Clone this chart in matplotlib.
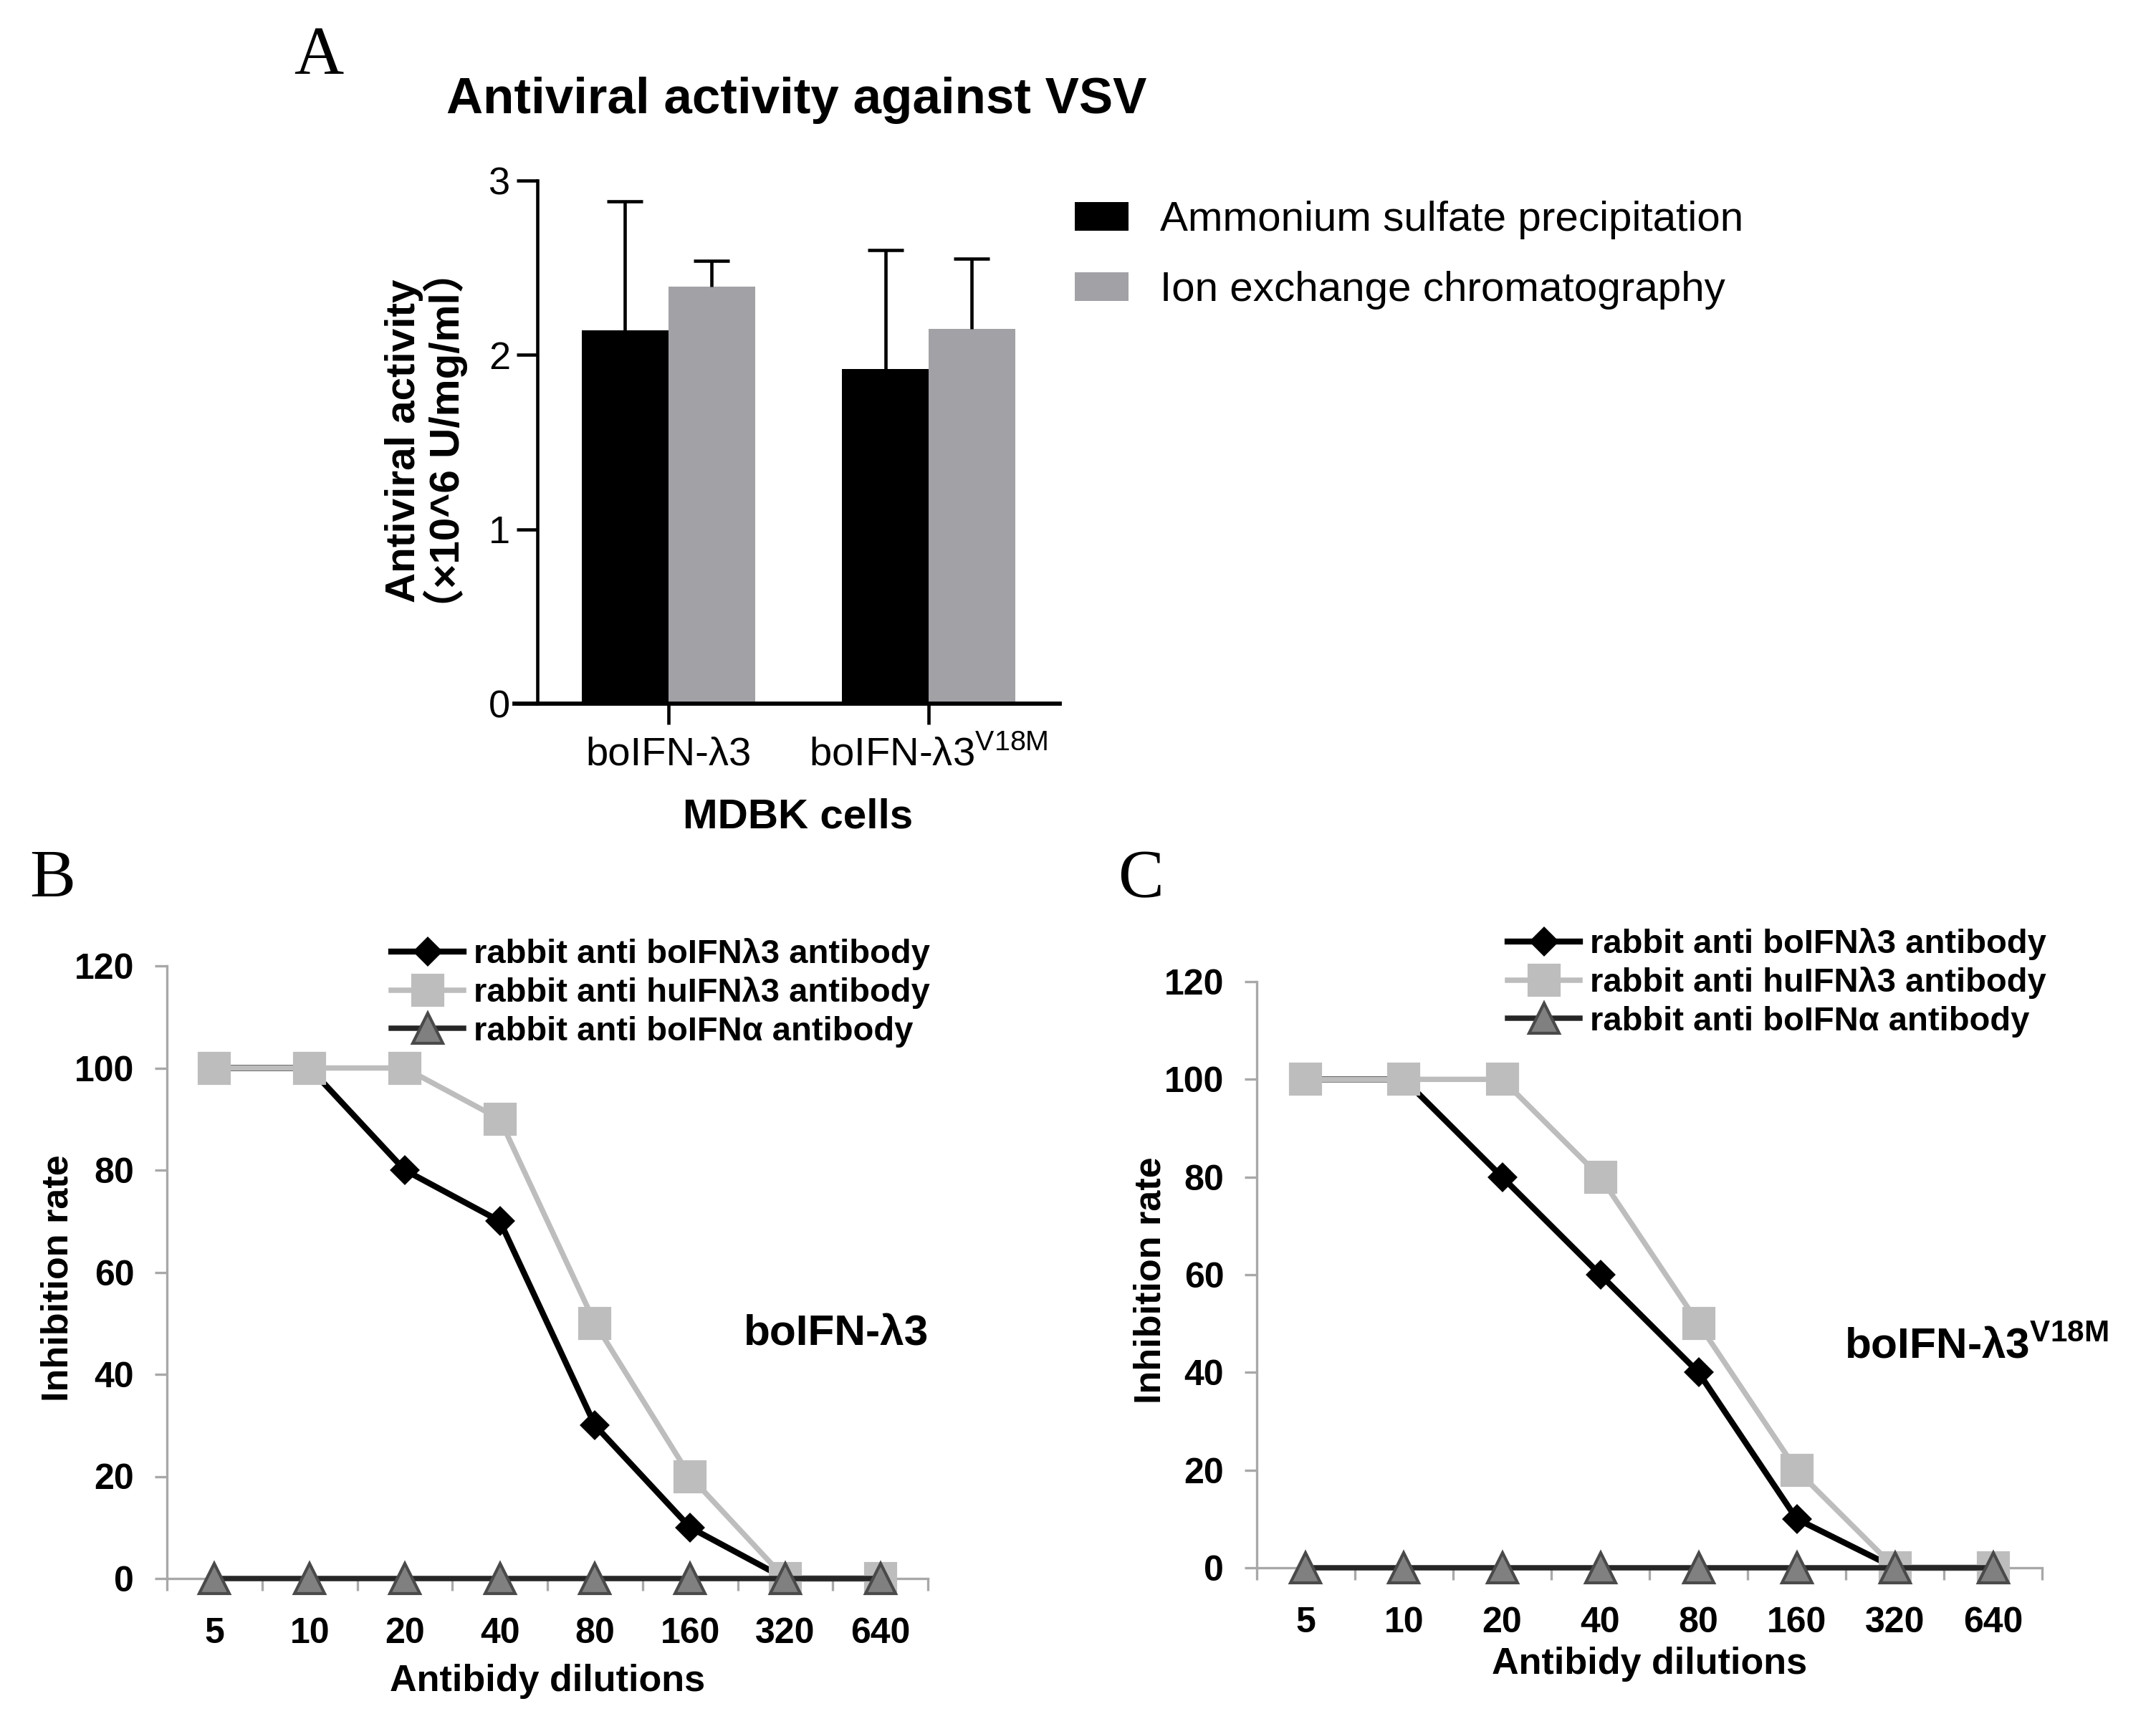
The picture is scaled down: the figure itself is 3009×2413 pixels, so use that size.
import numpy as np
import matplotlib
matplotlib.use("Agg")
import matplotlib.pyplot as plt
from matplotlib.patches import Patch

plt.rcParams['font.family'] = ['Liberation Sans', 'Noto Sans CJK SC', 'DejaVu Sans']
plt.rcParams['mathtext.fontset'] = 'custom'
plt.rcParams['mathtext.rm'] = 'Liberation Sans'
plt.rcParams['mathtext.bf'] = 'Liberation Sans:bold'

# ---- panel A data ----
groups_a = ['boIFN-λ3', 'boIFN-λ3$^{\\mathregular{V18M}}$']
ammonium_mean = [2.14, 1.92]
ammonium_sd = [0.74, 0.68]
ionex_mean = [2.39, 2.15]
ionex_sd = [0.15, 0.40]

# ---- panels B / C data ----
dilutions = ['5', '10', '20', '40', '80', '160', '320', '640']
b_bo_lambda = [100, 100, 80, 70, 30, 10, 0, 0]
b_hu_lambda = [100, 100, 100, 90, 50, 20, 0, 0]
b_bo_alpha = [0, 0, 0, 0, 0, 0, 0, 0]
c_bo_lambda = [100, 100, 80, 60, 40, 10, 0, 0]
c_hu_lambda = [100, 100, 100, 80, 50, 20, 0, 0]
c_bo_alpha = [0, 0, 0, 0, 0, 0, 0, 0]

series_labels = ['rabbit anti boIFNλ3 antibody',
                 'rabbit anti huIFNλ3 antibody',
                 'rabbit anti boIFNα antibody']

W, H = 3009, 2413
fig = plt.figure(figsize=(W / 300, H / 300), dpi=300)

# ================= panel A =================
axA = fig.add_axes([718 / W, 1 - 982 / H, 761 / W, 730 / H])
xa = np.arange(len(groups_a))
bw = 0.333
axA.bar(xa - bw / 2, ammonium_mean, bw, color='black', zorder=2)
axA.bar(xa + bw / 2, ionex_mean, bw, color='#a2a2a6', zorder=2)
for xs, m, sd in [(xa - bw / 2, ammonium_mean, ammonium_sd),
                  (xa + bw / 2, ionex_mean, ionex_sd)]:
    eb = axA.errorbar(xs, m, yerr=[np.zeros(len(sd)), sd], fmt='none',
                      ecolor='black', elinewidth=1.1, capsize=6, capthick=1.1,
                      zorder=3)
    eb[1][0].set_visible(False)

axA.set_xlim(-0.592, 1.504)
axA.set_ylim(0, 3)
axA.spines['top'].set_visible(False)
axA.spines['right'].set_visible(False)
axA.spines['left'].set_position(('data', -0.504))
axA.spines['left'].set_linewidth(1.1)
axA.spines['bottom'].set_linewidth(1.4)
axA.set_yticks([0, 1, 2, 3])
axA.set_xticks(xa)
axA.set_xticklabels(groups_a, fontsize=13.5)
axA.tick_params(axis='y', length=7, width=1.1, pad=2, labelsize=13)
axA.tick_params(axis='x', length=7, width=1.1, pad=4)
axA.set_ylabel('Antiviral activity\n（×10^6 U/mg/ml）', fontsize=14,
               fontweight='bold', linespacing=1.0)
axA.yaxis.set_label_coords(-0.085, 0.503)
axA.set_xlabel('MDBK cells', fontsize=14, fontweight='bold')
axA.xaxis.set_label_coords(0.52, -0.18)

fig.text(0.3696, 0.942, 'Antiviral activity against VSV', fontsize=17,
         fontweight='bold', ha='center', va='center')

handles_a = [Patch(facecolor='black'), Patch(facecolor='#a2a2a6')]
fig.legend(handles_a, ['Ammonium sulfate precipitation',
                       'Ion exchange chromatography'],
           loc='upper left', bbox_to_anchor=(1500 / W, 1 - 280 / H),
           frameon=False, fontsize=14, handlelength=1.29, handleheight=0.68,
           handletextpad=0.75, labelspacing=0.76, borderpad=0,
           borderaxespad=0)


# ================= panels B / C =================
def inhibition_panel(ax, bo_l, hu_l, bo_a, leg_anchor):
    x = np.arange(len(dilutions)) + 0.5
    ax.plot(x, bo_l, color='black', lw=2.0, marker='D', ms=6,
            label=series_labels[0], zorder=3, clip_on=False)
    ax.plot(x, hu_l, color='#bdbdbd', lw=1.8, marker='s', ms=10,
            label=series_labels[1], zorder=4, clip_on=False)
    ax.plot(x, bo_a, color='#262626', lw=1.8, marker='^', ms=10,
            mfc='#808080', mec='#4a4a4a', label=series_labels[2],
            zorder=5, clip_on=False)
    ax.set_xlim(0, 8)
    ax.set_ylim(0, 120)
    ax.set_yticks(np.arange(0, 121, 20))
    ax.set_xticks(x)
    ax.set_xticklabels(dilutions)
    ax.set_xticks(np.arange(0, 9), minor=True)
    for s in ['top', 'right']:
        ax.spines[s].set_visible(False)
    for s in ['left', 'bottom']:
        ax.spines[s].set_color('#a8a8a8')
        ax.spines[s].set_linewidth(0.8)
    ax.tick_params(axis='x', which='major', length=0, pad=13,
                   labelsize=12)
    ax.tick_params(axis='x', which='minor', length=4, width=0.8,
                   color='#a8a8a8')
    ax.tick_params(axis='y', length=4, width=0.8, color='#a8a8a8', pad=7,
                   labelsize=12)
    for lab in ax.get_xticklabels() + ax.get_yticklabels():
        lab.set_fontweight('bold')
    ax.set_ylabel('Inhibition rate', fontsize=12.5, fontweight='bold')
    ax.set_xlabel('Antibidy dilutions', fontsize=12.5, fontweight='bold')
    fig.legend(*ax.get_legend_handles_labels(), loc='upper left',
               bbox_to_anchor=leg_anchor, frameon=False,
               prop={'weight': 'bold', 'size': 11.3}, numpoints=1,
               handlelength=2.15, handletextpad=0.3, labelspacing=0.2,
               borderpad=0, borderaxespad=0)


axB = fig.add_axes([233 / W, 1 - 2203 / H, 1062 / W, 855 / H])
inhibition_panel(axB, b_bo_lambda, b_hu_lambda, b_bo_alpha,
                 (546 / W, 1 - 1309 / H))
axB.yaxis.set_label_coords(-0.12, 0.491)
axB.xaxis.set_label_coords(0.5, -0.139)
fig.text(1167 / W, 1 - 1878 / H, 'boIFN-λ3', fontsize=14.5,
         fontweight='bold', ha='center', va='baseline')

axC = fig.add_axes([1754 / W, 1 - 2188 / H, 1096 / W, 818 / H])
inhibition_panel(axC, c_bo_lambda, c_hu_lambda, c_bo_alpha,
                 (2104 / W, 1 - 1295 / H))
axC.yaxis.set_label_coords(-0.113, 0.49)
axC.xaxis.set_label_coords(0.5, -0.135)
fig.text(2574 / W, 1 - 1895 / H, 'boIFN-λ3$^{\\mathbf{V18M}}$',
         fontsize=14.5, fontweight='bold', ha='left', va='baseline')

# panel letters
for lx, ly, letter in [(445, 80, 'A'), (73, 1229, 'B'), (1592, 1229, 'C')]:
    fig.text(lx / W, 1 - ly / H, letter, fontsize=23,
             family='Liberation Serif', ha='center', va='center')

fig.savefig('out.png', dpi=300)
